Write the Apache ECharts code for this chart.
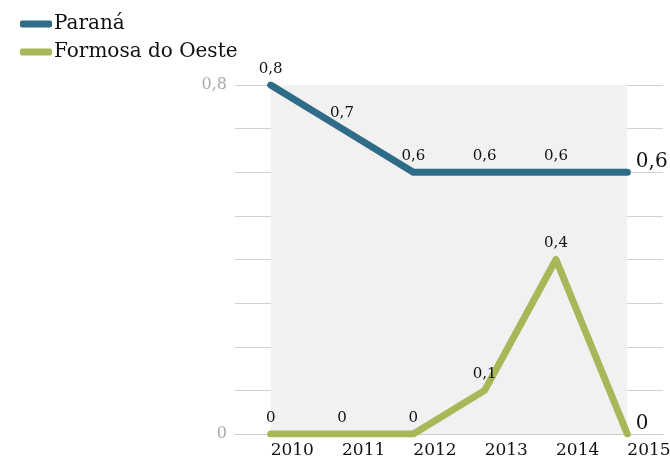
<!DOCTYPE html>
<html>
<head>
<meta charset="utf-8">
<script src="https://cdn.jsdelivr.net/npm/echarts@6/dist/echarts.min.js"></script>
<style>
  html, body { margin: 0; padding: 0; background: #fff; }
  #container { width: 670px; height: 459px; }
</style>
</head>
<body>
<div id="container"></div>
<script>
  // dados
  var years = ['2010', '2011', '2012', '2013', '2014', '2015']
  var parana = [0.8, 0.7, 0.6, 0.6, 0.6, 0.6]
  var formosa = [0, 0, 0, 0.1, 0.4, 0]
  var yTicks = [0, 0.8]

  var font = 'DejaVu Serif'
  var fmt = function (v) { return String(v).replace('.', ',') }

  // o último ponto leva um rótulo maior, à direita e um pouco acima
  function withLabels(data) {
    return data.map(function (v, i) {
      if (i < data.length - 1) return v
      return {
        value: v,
        label: { position: [9, -10], align: 'left', verticalAlign: 'middle', fontSize: 20 }
      }
    })
  }

  function lineSeries(name, color, data) {
    return {
      name: name,
      type: 'line',
      symbol: 'circle',
      symbolSize: 1,
      showSymbol: true,
      color: color,
      itemStyle: { color: color },
      lineStyle: { width: 7, cap: 'round', join: 'round' },
      label: {
        show: true,
        position: 'top',
        distance: 8,
        color: '#111',
        fontSize: 15,
        fontFamily: font,
        formatter: function (p) { return fmt(p.value) }
      },
      data: withLabels(data),
      z: 3
    }
  }

  var myChart = echarts.init(document.getElementById('container'))
  var sParana = lineSeries('Paraná', '#2f6c88', parana)
  sParana.markArea = {
    silent: true,
    itemStyle: { color: '#f1f1f1' },
    data: [[{ xAxis: '2010', yAxis: 0.8 }, { xAxis: '2015', yAxis: 0 }]]
  }
  var sFormosa = lineSeries('Formosa do Oeste', '#a9b759', formosa)

  myChart.setOption({
    animation: false,
    textStyle: { fontFamily: font },
    legend: {
      left: 15,
      top: 9,
      orient: 'vertical',
      itemWidth: 32,
      itemHeight: 7,
      itemGap: 8,
      icon: 'roundRect',
      textStyle: { fontFamily: font, fontSize: 20, color: '#111', padding: [0, 0, 0, -3] },
      data: ['Paraná', 'Formosa do Oeste']
    },
    grid: { left: 235, right: 7, top: 85, bottom: 25, outerBoundsMode: 'none' },
    xAxis: {
      type: 'category',
      data: years,
      boundaryGap: true,
      axisLine: { lineStyle: { color: '#cccccc' } },
      axisTick: { alignWithLabel: true, length: 6, lineStyle: { color: '#cccccc' } },
      axisLabel: { color: '#111', fontSize: 17, fontFamily: font, align: 'left', margin: 8 }
    },
    yAxis: {
      type: 'value',
      min: 0,
      max: 0.8,
      interval: 0.1,
      axisLine: { show: false },
      axisTick: { show: false },
      splitLine: { lineStyle: { color: '#d0d0d0', width: 1 } },
      axisLabel: {
        color: '#aaaaaa',
        fontSize: 16,
        fontFamily: font,
        margin: 8,
        formatter: function (v) {
          for (var i = 0; i < yTicks.length; i++) {
            if (Math.abs(v - yTicks[i]) < 1e-9) return fmt(yTicks[i])
          }
          return ''
        }
      }
    },
    series: [sParana, sFormosa]
  })
</script>
</body>
</html>
